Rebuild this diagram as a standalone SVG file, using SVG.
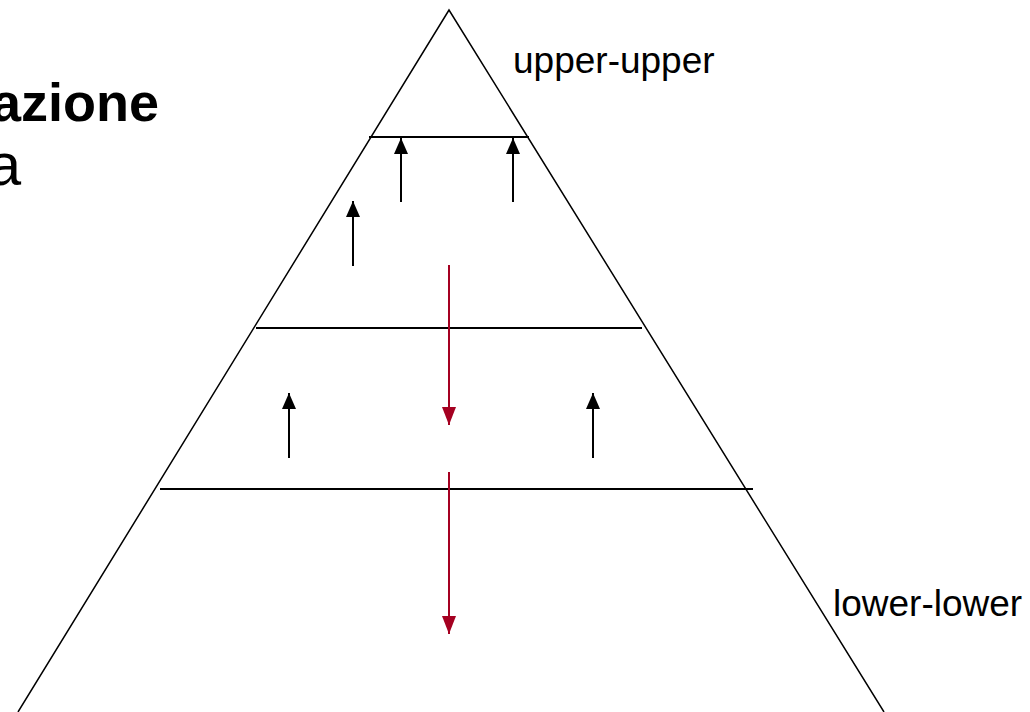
<svg xmlns="http://www.w3.org/2000/svg" width="1030" height="712" viewBox="0 0 1030 712">
<defs>
<style>
.txt{font-family:"Liberation Sans",Arial,sans-serif;fill:#000}
.edge{stroke:#000;stroke-width:1.5;fill:none}
.band{stroke:#000;stroke-width:2;fill:none}
.up{stroke:#000;stroke-width:2;fill:none;marker-end:url(#hb)}
.down{stroke:#a50021;stroke-width:2;fill:none;marker-end:url(#hr)}
</style>
<marker id="hb" viewBox="0 0 16 14" refX="16" refY="7" markerWidth="16" markerHeight="14" markerUnits="userSpaceOnUse" orient="auto">
<path d="M0,0 L16,7 L0,14 z" fill="#000"/>
</marker>
<marker id="hr" viewBox="0 0 18 14" refX="18" refY="7" markerWidth="18" markerHeight="14" markerUnits="userSpaceOnUse" orient="auto">
<path d="M0,0 L18,7 L0,14 z" fill="#a50021"/>
</marker>
</defs>
<rect width="1030" height="712" fill="#fff"/>
<g id="title">
<text class="txt" x="159" y="121" text-anchor="end" font-size="54" font-weight="bold">azione</text>
<text class="txt" x="21" y="185" text-anchor="end" font-size="60">a</text>
</g>
<g id="pyramid">
<path class="edge" d="M18,712 L449,10 L884,712"/>
<line class="band" x1="369" y1="137" x2="529" y2="137"/>
<line class="band" x1="256" y1="328" x2="642" y2="328"/>
<line class="band" x1="160" y1="489" x2="753" y2="489"/>
</g>
<g id="labels">
<text class="txt" x="513" y="73" font-size="37">upper-upper</text>
<text class="txt" x="833" y="616" font-size="37">lower-lower</text>
</g>
<g id="connectors">
<line class="up" x1="401" y1="202" x2="401" y2="138"/>
<line class="up" x1="513" y1="202" x2="513" y2="138"/>
<line class="up" x1="353" y1="266" x2="353" y2="201"/>
<line class="up" x1="289" y1="458" x2="289" y2="393"/>
<line class="up" x1="593" y1="458" x2="593" y2="393"/>
<line class="down" x1="449" y1="265" x2="449" y2="425"/>
<line class="down" x1="449" y1="472" x2="449" y2="634"/>
</g>
</svg>
